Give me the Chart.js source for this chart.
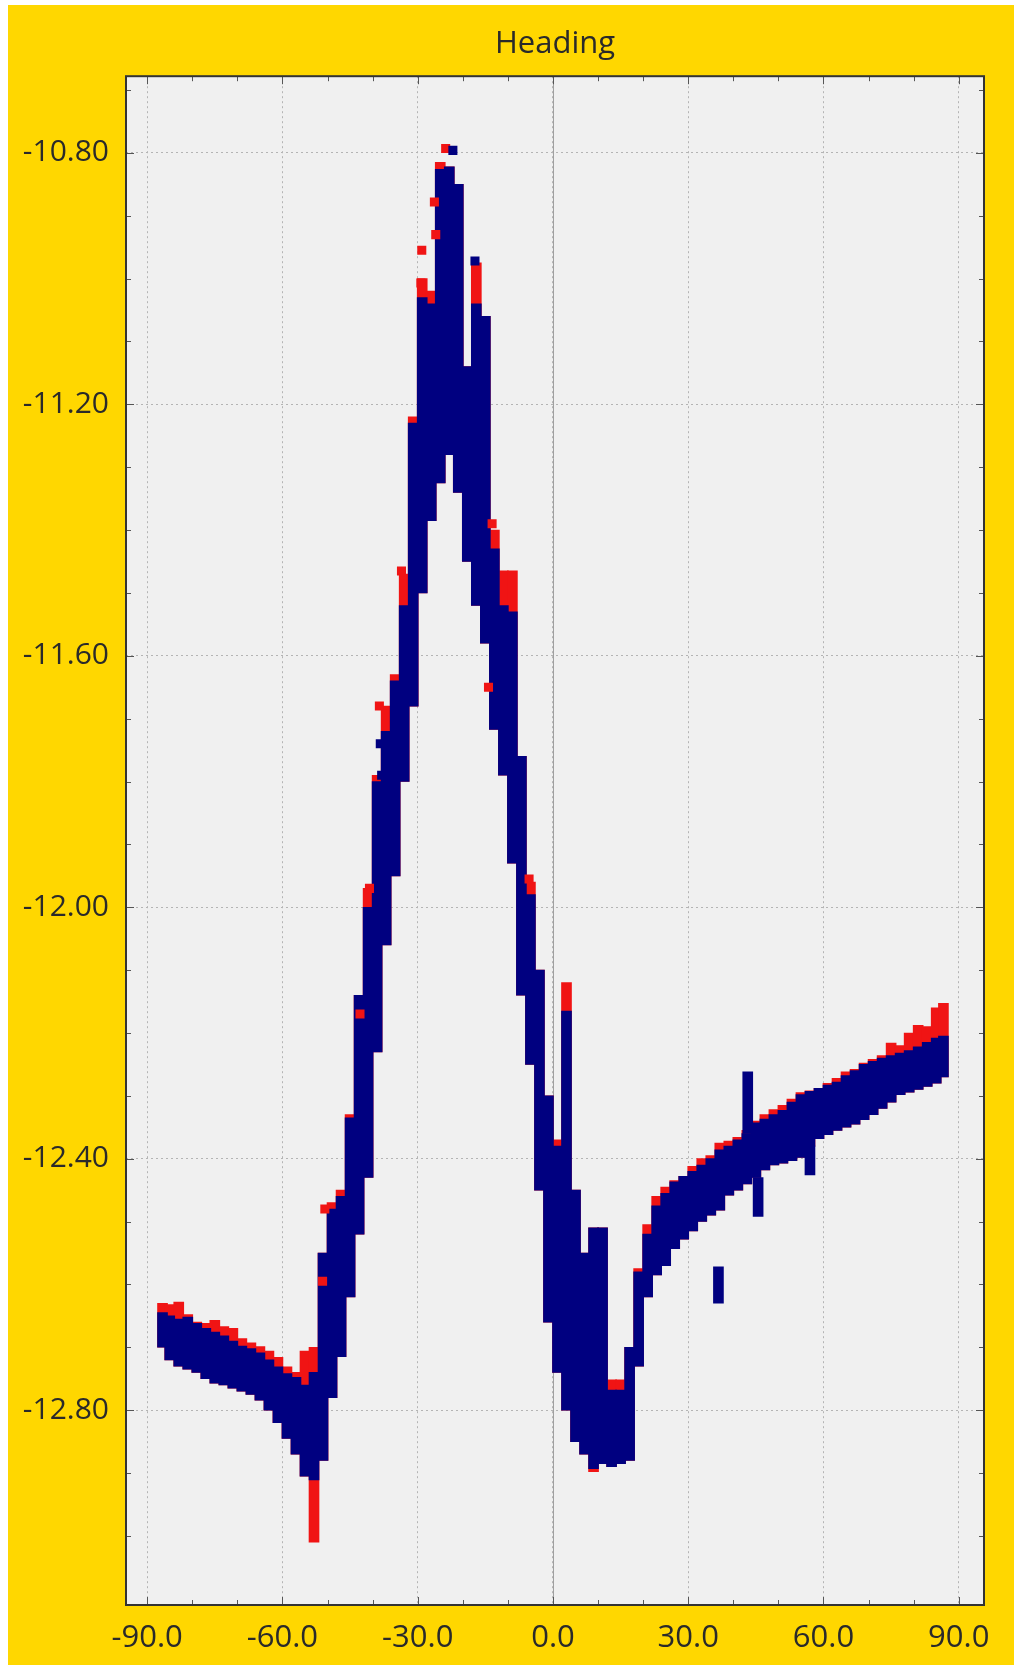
<!DOCTYPE html>
<html lang="en">
<head>
<meta charset="UTF-8">
<title>Heading</title>
<script src="https://cdn.jsdelivr.net/npm/chart.js"></script>
<style>
  body { margin: 0; background: #fff; }
  #panel { position: absolute; left: 8px; top: 5px; width: 1006px; height: 1660px; background: #ffd700; }
</style>
</head>
<body>
<div id="panel"><canvas id="headingChart"></canvas></div>
<script>
// heading columns: every column is the vertical spread of the samples at that heading
const colX = [-86.6, -85, -83, -81, -79, -77, -75, -73, -71, -69, -67, -65, -63, -61, -59, -57, -55, -53, -51, -49,
  -47, -45, -43, -41, -39, -37, -35, -33, -31, -29, -27, -25, -23, -21, -19, -17, -15, -13, -11, -9,
  -7, -5, -3, -1, 1, 3, 5, 7, 9, 11, 13, 15, 17, 19, 21, 23, 25, 27, 29, 31,
  33, 35, 37, 39, 41, 43, 45, 47, 49, 51, 53, 55, 57, 59, 61, 63, 65, 67, 69, 71,
  73, 75, 77, 79, 81, 83, 85, 86.6];

const navyLow = [-12.700, -12.720, -12.730, -12.735, -12.740, -12.750, -12.757, -12.760, -12.765, -12.770, -12.775, -12.784, -12.800, -12.820, -12.845, -12.870, -12.905, -12.911, -12.880, -12.780,
  -12.715, -12.620, -12.520, -12.430, -12.230, -12.060, -11.950, -11.800, -11.680, -11.500, -11.385, -11.325, -11.280, -11.340, -11.450, -11.520, -11.580, -11.717, -11.790, -11.930,
  -12.140, -12.250, -12.450, -12.660, -12.740, -12.800, -12.850, -12.870, -12.893, -12.885, -12.890, -12.885, -12.880, -12.730, -12.620, -12.585, -12.570, -12.543, -12.528, -12.515,
  -12.500, -12.490, -12.482, -12.458, -12.450, -12.440, -12.430, -12.418, -12.410, -12.407, -12.403, -12.398, -12.380, -12.368, -12.362, -12.355, -12.350, -12.345, -12.338, -12.330,
  -12.320, -12.310, -12.298, -12.294, -12.290, -12.285, -12.280, -12.270];

const navyHigh = [-12.645, -12.650, -12.655, -12.652, -12.662, -12.670, -12.676, -12.682, -12.690, -12.698, -12.702, -12.709, -12.720, -12.731, -12.742, -12.748, -12.760, -12.740, -12.550, -12.480,
  -12.460, -12.335, -12.140, -12.000, -11.800, -11.720, -11.640, -11.520, -11.230, -11.030, -11.040, -10.826, -10.822, -10.850, -11.140, -11.040, -11.060, -11.430, -11.520, -11.530,
  -11.760, -11.980, -12.100, -12.300, -12.380, -12.165, -12.450, -12.550, -12.510, -12.510, -12.768, -12.768, -12.700, -12.580, -12.520, -12.475, -12.455, -12.437, -12.428, -12.420,
  -12.410, -12.400, -12.386, -12.380, -12.370, -12.360, -12.343, -12.337, -12.330, -12.323, -12.310, -12.298, -12.293, -12.288, -12.283, -12.278, -12.268, -12.260, -12.250, -12.245,
  -12.240, -12.236, -12.232, -12.228, -12.222, -12.215, -12.208, -12.205];

const redLow = [-12.700, -12.720, -12.730, -12.735, -12.740, -12.750, -12.757, -12.760, -12.765, -12.770, -12.775, -12.784, -12.800, -12.820, -12.845, -12.870, -12.905, -13.010, -12.880, -12.780,
  -12.715, -12.620, -12.520, -12.430, -12.230, -12.060, -11.950, -11.800, -11.680, -11.500, -11.385, -11.325, -11.280, -11.340, -11.450, -11.520, -11.580, -11.717, -11.790, -11.930,
  -12.140, -12.250, -12.450, -12.660, -12.740, -12.800, -12.850, -12.870, -12.898, -12.885, -12.890, -12.885, -12.880, -12.730, -12.620, -12.585, -12.570, -12.543, -12.528, -12.515,
  -12.500, -12.490, -12.482, -12.458, -12.450, -12.440, -12.430, -12.418, -12.410, -12.407, -12.403, -12.398, -12.380, -12.368, -12.362, -12.355, -12.350, -12.345, -12.338, -12.330,
  -12.320, -12.310, -12.298, -12.294, -12.290, -12.285, -12.280, -12.270];

const redHigh = [-12.630, -12.632, -12.628, -12.648, -12.660, -12.662, -12.657, -12.667, -12.670, -12.686, -12.693, -12.699, -12.706, -12.716, -12.731, -12.740, -12.706, -12.700, -12.550, -12.470,
  -12.450, -12.330, -12.140, -11.970, -11.790, -11.680, -11.630, -11.470, -11.220, -11.000, -11.020, -10.815, -10.822, -10.850, -11.140, -10.975, -11.060, -11.400, -11.465, -11.465,
  -11.760, -11.960, -12.100, -12.300, -12.370, -12.120, -12.450, -12.550, -12.510, -12.510, -12.752, -12.752, -12.700, -12.575, -12.505, -12.460, -12.445, -12.435, -12.428, -12.412,
  -12.400, -12.395, -12.375, -12.372, -12.366, -12.355, -12.340, -12.330, -12.322, -12.315, -12.305, -12.295, -12.292, -12.288, -12.280, -12.272, -12.262, -12.258, -12.248, -12.242,
  -12.236, -12.216, -12.220, -12.200, -12.188, -12.190, -12.160, -12.153];

// isolated navy streaks away from the main band
const strayX = [36.7, 43.2, 45.5, 57.0];
const strayLow = [-12.630, -12.360, -12.492, -12.426];
const strayHigh = [-12.572, -12.262, -12.430, -12.380];

// single markers
const redDotX = [-29.1, -29.3, -26.3, -26.0, -23.8, -13.5, -14.3, -5.3, -38.5, -33.6, -40.7, -42.8, -51.1, -50.6];
const redDotY = [-10.955, -11.007, -10.878, -10.930, -10.793, -11.390, -11.650, -11.955, -11.680, -11.465, -11.970, -12.170, -12.595, -12.480];
const navyDotX = [-22.2, -17.3, -38.3, -38.0];
const navyDotY = [-10.796, -10.972, -11.740, -11.790];

// axes
const xTicks = [-90, -60, -30, 0, 30, 60, 90];
const xMinor = [-80, -70, -50, -40, -20, -10, 10, 20, 40, 50, 70, 80];
const yTicks = [-12.8, -12.4, -12.0, -11.6, -11.2, -10.8];
const yMinor = [-13.0, -12.9, -12.7, -12.6, -12.5, -12.3, -12.2, -12.1, -11.9, -11.8, -11.7, -11.5, -11.4, -11.3, -11.1, -11.0, -10.9, -10.7];

const NAVY = '#000080';
const RED = '#f01414';
const TEXT = '#2a2a2a';

function ranges(xs, lo, hi) {
  return xs.map((x, i) => ({ x: x, y: [lo[i], hi[i]] }));
}
function points(xs, ys) {
  return xs.map((x, i) => ({ x: x, y: ys[i] }));
}

// plot background, zero line, frame and inner tick marks
const framePlugin = {
  id: 'frame',
  beforeDraw(chart) {
    const a = chart.chartArea, ctx = chart.ctx;
    ctx.save();
    ctx.fillStyle = '#f0f0f0';
    ctx.fillRect(a.left, a.top, a.right - a.left, a.bottom - a.top);
    ctx.restore();
  },
  beforeDatasetsDraw(chart) {
    const a = chart.chartArea, ctx = chart.ctx;
    const x0 = Math.round(chart.scales.x.getPixelForValue(0)) + 0.5;
    ctx.save();
    ctx.strokeStyle = '#a0a0a0';
    ctx.lineWidth = 1;
    ctx.beginPath();
    ctx.moveTo(x0, a.top);
    ctx.lineTo(x0, a.bottom);
    ctx.stroke();
    ctx.restore();
  },
  afterDatasetsDraw(chart) {
    const a = chart.chartArea, ctx = chart.ctx;
    const xs = chart.scales.x, ys = chart.scales.y;
    ctx.save();
    ctx.strokeStyle = '#555';
    ctx.lineWidth = 1;
    ctx.beginPath();
    const vtick = (v, len) => {
      const p = Math.round(xs.getPixelForValue(v)) + 0.5;
      ctx.moveTo(p, a.bottom); ctx.lineTo(p, a.bottom - len);
      ctx.moveTo(p, a.top); ctx.lineTo(p, a.top + len);
    };
    const htick = (v, len) => {
      const p = Math.round(ys.getPixelForValue(v)) + 0.5;
      ctx.moveTo(a.left, p); ctx.lineTo(a.left + len, p);
      ctx.moveTo(a.right, p); ctx.lineTo(a.right - len, p);
    };
    xTicks.forEach(v => vtick(v, 8));
    xMinor.forEach(v => vtick(v, 5));
    yTicks.forEach(v => htick(v, 8));
    yMinor.forEach(v => htick(v, 5));
    ctx.stroke();
    ctx.strokeStyle = '#333';
    ctx.lineWidth = 2;
    ctx.strokeRect(a.left, a.top, a.right - a.left, a.bottom - a.top);
    ctx.restore();
  }
};

Chart.defaults.font.family = "'Open Sans', 'Liberation Sans', sans-serif";
Chart.defaults.color = TEXT;

const ctx = document.getElementById('headingChart').getContext('2d');
const headingChart = new Chart(ctx, {
  type: 'bar',
  data: {
    datasets: [
      {
        type: 'scatter', data: points(navyDotX, navyDotY), order: 0,
        pointStyle: 'rect', pointRadius: 6.4, backgroundColor: NAVY, borderWidth: 0
      },
      {
        type: 'scatter', data: points(redDotX, redDotY), order: 1,
        pointStyle: 'rect', pointRadius: 6.4, backgroundColor: RED, borderWidth: 0
      },
      {
        data: ranges(strayX, strayLow, strayHigh), order: 2,
        backgroundColor: NAVY, borderWidth: 0, borderSkipped: false, barThickness: 10, grouped: false
      },
      {
        data: ranges(colX, navyLow, navyHigh), order: 3,
        backgroundColor: NAVY, borderWidth: 0, borderSkipped: false, barThickness: 10, grouped: false
      },
      {
        data: ranges(colX, redLow, redHigh), order: 4,
        backgroundColor: RED, borderWidth: 0, borderSkipped: false, barThickness: 10, grouped: false
      }
    ]
  },
  options: {
    responsive: true,
    maintainAspectRatio: false,
    animation: false,
    layout: { padding: { left: 0, right: 30, top: 0, bottom: 0 } },
    plugins: {
      legend: { display: false },
      tooltip: { enabled: false },
      title: {
        display: true,
        fullSize: false,   // centred over the plot, not the whole canvas
        text: 'Heading',
        color: TEXT,
        font: { size: 31, weight: 'normal' },
        padding: { top: 20.5, bottom: 13.5 }
      }
    },
    scales: {
      x: {
        type: 'linear',
        min: -94.7,
        max: 95.6,
        offset: false,
        grid: { offset: false, color: '#b4b4b4', drawTicks: false },
        border: { display: false, dash: [2, 3] },
        afterBuildTicks: (scale) => { scale.ticks = xTicks.map(v => ({ value: v })); },
        afterFit: (scale) => { scale.height = 60; },
        ticks: {
          padding: 15,
          font: { size: 31 },
          color: TEXT,
          callback: (v) => Number(v).toFixed(1)
        }
      },
      y: {
        type: 'linear',
        min: -13.11,
        max: -10.678,
        grid: { color: '#b4b4b4', drawTicks: false },
        border: { display: false, dash: [2, 3] },
        afterBuildTicks: (scale) => { scale.ticks = yTicks.map(v => ({ value: v })); },
        afterFit: (scale) => { scale.width = 118; },
        ticks: {
          padding: 17,
          font: { size: 30 },
          color: TEXT,
          callback: (v) => Number(v).toFixed(2)
        }
      }
    }
  },
  plugins: [framePlugin]
});
</script>
</body>
</html>
